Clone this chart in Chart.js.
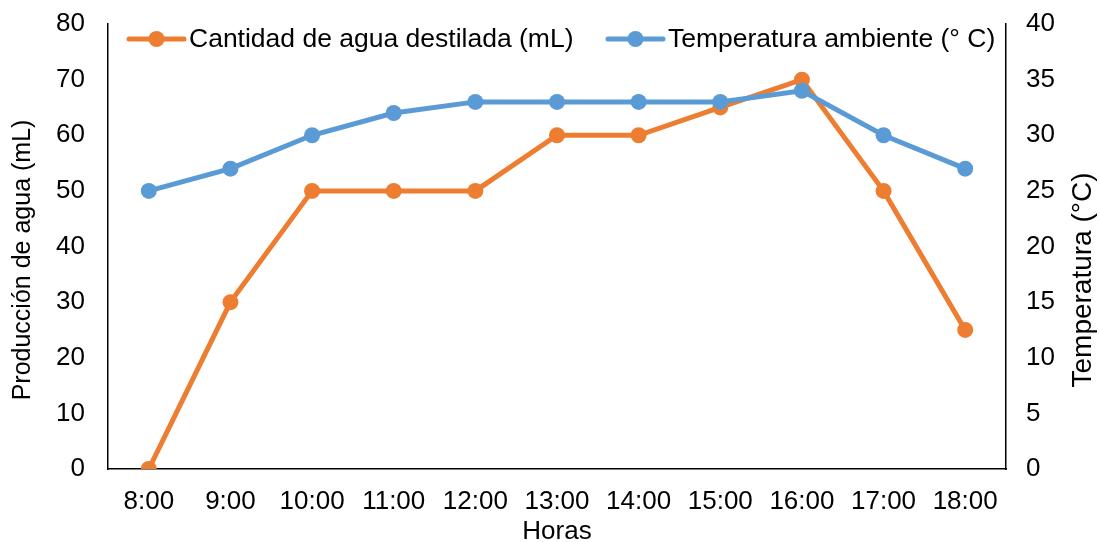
<!DOCTYPE html>
<html>
<head>
<meta charset="utf-8">
<script src="https://cdn.jsdelivr.net/npm/chart.js@4"></script>
<style>
  html, body { margin: 0; padding: 0; background: #fff; }
  #wrap { width: 1100px; height: 542px; }
</style>
</head>
<body>
<div id="wrap"><canvas id="c" width="1100" height="542"></canvas></div>
<script>
const horas = ['8:00', '9:00', '10:00', '11:00', '12:00', '13:00', '14:00', '15:00', '16:00', '17:00', '18:00'];
const aguaDestilada = [0, 30, 50, 50, 50, 60, 60, 65, 70, 50, 25];
const temperatura = [25, 27, 30, 32, 33, 33, 33, 33, 34, 30, 27];
const nombreAgua = 'Cantidad de agua destilada (mL)';
const nombreTemp = 'Temperatura ambiente (° C)';
const tituloX = 'Horas';
const tituloY = 'Producción de agua (mL)';
const tituloY2 = 'Temperatura (°C)';

const NARANJA = '#ED7D31';
const AZUL = '#5B9BD5';
const FUENTE = "'Liberation Sans', Arial, sans-serif";
const TAM = 26;

// Legend drawn as line + marker, and both vertical axis titles reading upward
const extras = {
  id: 'extras',
  afterDraw(chart) {
    const ctx = chart.ctx;
    ctx.save();
    ctx.font = '26.5px ' + FUENTE;
    ctx.textBaseline = 'middle';
    ctx.fillStyle = '#000';
    const items = [
      { x: 129, text: nombreAgua, color: NARANJA },
      { x: 608, text: nombreTemp, color: AZUL }
    ];
    const y = 39;
    items.forEach(it => {
      ctx.strokeStyle = it.color;
      ctx.lineWidth = 5;
      ctx.lineCap = 'round';
      ctx.beginPath();
      ctx.moveTo(it.x, y);
      ctx.lineTo(it.x + 55, y);
      ctx.stroke();
      ctx.fillStyle = it.color;
      ctx.beginPath();
      ctx.arc(it.x + 27.5, y, 8, 0, Math.PI * 2);
      ctx.fill();
      ctx.fillStyle = '#000';
      ctx.textAlign = 'left';
      ctx.fillText(it.text, it.x + 60, y + 1);
    });
    ctx.textAlign = 'center';
    // left axis title
    ctx.save();
    ctx.font = '25px ' + FUENTE;
    ctx.translate(23, 260);
    ctx.rotate(-Math.PI / 2);
    ctx.fillText(tituloY, 0, 0);
    ctx.restore();
    // right axis title
    ctx.save();
    ctx.font = '28px ' + FUENTE;
    ctx.translate(1083, 280);
    ctx.rotate(-Math.PI / 2);
    ctx.fillText(tituloY2, 0, 0);
    ctx.restore();
    ctx.restore();
  }
};

function sinRelleno(s) {
  s.paddingTop = 0;
  s.paddingBottom = 0;
}

new Chart(document.getElementById('c'), {
  type: 'line',
  data: {
    labels: horas,
    datasets: [
      {
        label: nombreAgua,
        data: aguaDestilada,
        yAxisID: 'y',
        order: 1,
        borderColor: NARANJA,
        backgroundColor: NARANJA,
        borderWidth: 5,
        pointRadius: 8,
        pointHoverRadius: 8,
        pointBorderWidth: 0,
        tension: 0
      },
      {
        label: nombreTemp,
        data: temperatura,
        yAxisID: 'y2',
        order: 0,
        borderColor: AZUL,
        backgroundColor: AZUL,
        borderWidth: 5,
        pointRadius: 8,
        pointHoverRadius: 8,
        pointBorderWidth: 0,
        tension: 0
      }
    ]
  },
  options: {
    responsive: false,
    animation: false,
    events: [],
    layout: { padding: { top: 24, left: 0, right: 0, bottom: 0 } },
    plugins: {
      legend: { display: false },
      tooltip: { enabled: false }
    },
    scales: {
      x: {
        offset: true,
        grid: { display: false, drawTicks: false },
        border: { display: true, color: '#000', width: 1.5 },
        ticks: { color: '#000', font: { family: FUENTE, size: TAM }, padding: 17, maxRotation: 0 },
        title: { display: true, text: tituloX, color: '#000', font: { family: FUENTE, size: TAM, lineHeight: 1 }, padding: { top: 0, bottom: -3 } },
        afterFit(s) { s.height = 73; s.paddingLeft = 0; s.paddingRight = 0; }
      },
      y: {
        position: 'left',
        min: 0, max: 80,
        grid: { display: false, drawTicks: false },
        border: { display: true, color: '#000', width: 1.5 },
        ticks: { stepSize: 10, color: '#000', font: { family: FUENTE, size: TAM }, padding: 23 },
        afterFit(s) { s.width = 108; sinRelleno(s); }
      },
      y2: {
        position: 'right',
        min: 0, max: 40,
        grid: { display: false, drawTicks: false },
        border: { display: true, color: '#000', width: 1.5 },
        ticks: { stepSize: 5, color: '#000', font: { family: FUENTE, size: TAM }, padding: 20 },
        afterFit(s) { s.width = 94; sinRelleno(s); }
      }
    }
  },
  plugins: [extras]
});
</script>
</body>
</html>
